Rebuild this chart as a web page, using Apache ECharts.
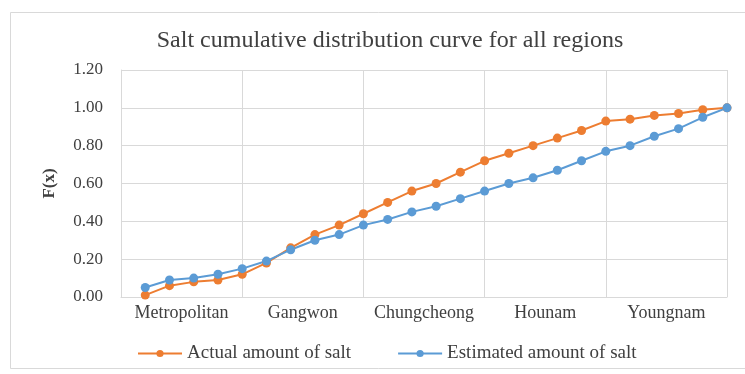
<!DOCTYPE html>
<html>
<head>
<meta charset="utf-8">
<title>Salt cumulative distribution curve</title>
<script src="https://cdn.jsdelivr.net/npm/echarts@6/dist/echarts.min.js"></script>
<style>
  html, body { margin: 0; padding: 0; background: #fff; }
  #main { width: 745px; height: 374px; }
</style>
</head>
<body>
<div id="main"></div>
<script>
'use strict';

// region groups shown under the x axis
var regions = ['Metropolitan', 'Gangwon', 'Chungcheong', 'Hounam', 'Youngnam'];

// point positions along the hidden value axis (0..25)
var pointPos = [1, 2, 3, 4, 5, 6, 7, 8, 9, 10, 11, 12, 13, 14, 15, 16, 17, 18, 19, 20, 21, 22, 23, 24, 25];

// F(x)
var actualSalt = [0.01, 0.06, 0.08, 0.09, 0.12, 0.18, 0.26, 0.33, 0.38, 0.44, 0.50, 0.56, 0.60, 0.66, 0.72,
    0.76, 0.80, 0.84, 0.88, 0.93, 0.94, 0.96, 0.97, 0.99, 1.00];
var estimatedSalt = [0.05, 0.09, 0.10, 0.12, 0.15, 0.19, 0.25, 0.30, 0.33, 0.38, 0.41, 0.45, 0.48, 0.52, 0.56,
    0.60, 0.63, 0.67, 0.72, 0.77, 0.80, 0.85, 0.89, 0.95, 1.00];

var yTicks = [0, 0.2, 0.4, 0.6, 0.8, 1.0, 1.2];

var FONT = '"Liberation Serif", "DejaVu Serif", serif';
var TEXT = '#404040';
var GRID = '#d9d9d9';

function pairs(vals) {
    return vals.map(function (v, i) {
        return [pointPos[i], v];
    });
}

var myChart = echarts.init(document.getElementById('main'));

var option = {
    backgroundColor: '#fff',
    animation: false,
    title: {
        text: 'Salt cumulative distribution curve for all regions',
        left: 385,
        textAlign: 'center',
        top: 24,
        textStyle: {
            fontFamily: FONT,
            fontSize: 24,
            fontWeight: 'normal',
            color: TEXT
        }
    },
    graphic: [{
        type: 'rect',
        shape: { x: 10.5, y: 12.5, width: 740, height: 356 },
        style: { fill: 'none', stroke: '#d9d9d9', lineWidth: 1 },
        silent: true
    }],
    legend: {
        left: 132,
        top: 339,
        itemWidth: 44,
        itemHeight: 9,
        itemGap: 46,
        textStyle: {
            fontFamily: FONT,
            fontSize: 19,
            color: TEXT
        },
        data: ['Actual amount of salt', 'Estimated amount of salt']
    },
    grid: {
        left: 121,
        right: 18,
        top: 70,
        bottom: 77
    },
    xAxis: [{
        type: 'value',
        min: 0,
        max: 25,
        interval: 5,
        position: 'bottom',
        axisLine: { show: true, lineStyle: { color: GRID } },
        axisTick: { show: false },
        axisLabel: { show: false },
        splitLine: { show: true, lineStyle: { color: GRID } }
    }, {
        type: 'category',
        data: regions,
        boundaryGap: true,
        position: 'bottom',
        axisLine: { show: false },
        axisTick: { show: false },
        splitLine: { show: false },
        axisLabel: {
            interval: 0,
            hideOverlap: false,
            margin: 7,
            fontFamily: FONT,
            fontSize: 18,
            color: TEXT
        }
    }],
    yAxis: {
        type: 'value',
        min: yTicks[0],
        max: yTicks[yTicks.length - 1],
        interval: 0.2,
        name: 'F(x)',
        nameLocation: 'middle',
        nameGap: 63,
        nameRotate: 90,
        nameTextStyle: {
            fontFamily: FONT,
            fontSize: 17,
            fontWeight: 'bold',
            color: TEXT
        },
        axisLine: { show: true, lineStyle: { color: GRID } },
        axisTick: { show: false },
        axisLabel: {
            margin: 18,
            fontFamily: FONT,
            fontSize: 17,
            color: TEXT,
            formatter: function (v) {
                return v.toFixed(2);
            }
        },
        splitLine: { lineStyle: { color: GRID } }
    },
    series: [{
        name: 'Actual amount of salt',
        type: 'line',
        xAxisIndex: 0,
        data: pairs(actualSalt),
        symbol: 'circle',
        symbolSize: 9,
        color: '#ed7d31',
        lineStyle: { width: 2, color: '#ed7d31' },
        itemStyle: { color: '#ed7d31' }
    }, {
        name: 'Estimated amount of salt',
        type: 'line',
        xAxisIndex: 0,
        data: pairs(estimatedSalt),
        symbol: 'circle',
        symbolSize: 9,
        color: '#5b9bd5',
        lineStyle: { width: 2, color: '#5b9bd5' },
        itemStyle: { color: '#5b9bd5' }
    }]
};

myChart.setOption(option);
</script>
</body>
</html>
